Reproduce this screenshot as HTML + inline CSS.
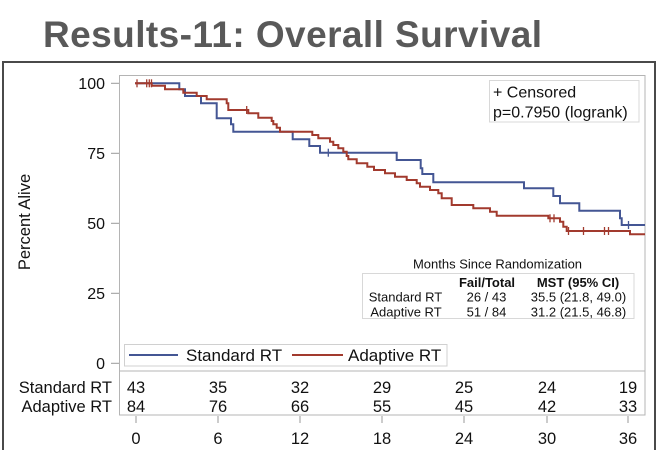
<!DOCTYPE html>
<html>
<head>
<meta charset="utf-8">
<style>
  html,body{margin:0;padding:0;background:#fff;}
  svg{display:block;}
  text{font-family:"Liberation Sans", Arial, sans-serif;}
</style>
</head>
<body>
<svg width="661" height="450" viewBox="0 0 661 450" xmlns="http://www.w3.org/2000/svg">
  <rect x="0" y="0" width="661" height="450" fill="#fff"/>
  <!-- Title -->
  <text x="43" y="47" font-size="37" font-weight="bold" fill="#595959" textLength="499" lengthAdjust="spacing">Results-11: Overall Survival</text>

  <!-- Outer frame -->
  <path d="M3,452 V62 H655 V452" fill="none" stroke="#4a4a4a" stroke-width="2"/>

  <!-- Plot frame -->
  <g stroke="#b4b4b4" stroke-width="1" fill="none">
    <rect x="119.5" y="75.5" width="525.5" height="339.5"/>
    <line x1="119.5" y1="371" x2="645" y2="371"/>
  </g>

  <!-- Y ticks -->
  <g stroke="#999" stroke-width="1">
    <line x1="111" y1="83.3" x2="119" y2="83.3"/>
    <line x1="111" y1="153.3" x2="119" y2="153.3"/>
    <line x1="111" y1="223.3" x2="119" y2="223.3"/>
    <line x1="111" y1="293.3" x2="119" y2="293.3"/>
    <line x1="111" y1="363.3" x2="119" y2="363.3"/>
  </g>
  <g font-size="16" fill="#111" text-anchor="end">
    <text x="105" y="89">100</text>
    <text x="105" y="159">75</text>
    <text x="105" y="229">50</text>
    <text x="105" y="299">25</text>
    <text x="105" y="369">0</text>
  </g>
  <text transform="translate(30,222) rotate(-90)" font-size="16.5" fill="#111" text-anchor="middle">Percent Alive</text>

  <!-- X ticks -->
  <g stroke="#999" stroke-width="1">
    <line x1="136" y1="416" x2="136" y2="423"/>
    <line x1="218" y1="416" x2="218" y2="423"/>
    <line x1="300" y1="416" x2="300" y2="423"/>
    <line x1="382" y1="416" x2="382" y2="423"/>
    <line x1="464" y1="416" x2="464" y2="423"/>
    <line x1="547" y1="416" x2="547" y2="423"/>
    <line x1="628" y1="416" x2="628" y2="423"/>
  </g>
  <g font-size="16.5" fill="#111" text-anchor="middle">
    <text x="136" y="444">0</text>
    <text x="218" y="444">6</text>
    <text x="300" y="444">12</text>
    <text x="382" y="444">18</text>
    <text x="464" y="444">24</text>
    <text x="547" y="444">30</text>
    <text x="628" y="444">36</text>
  </g>

  <!-- At-risk table -->
  <g font-size="16.5" fill="#111">
    <text x="112" y="393" text-anchor="end">Standard RT</text>
    <text x="112" y="412" text-anchor="end">Adaptive RT</text>
    <g text-anchor="middle">
      <text x="136" y="393">43</text>
      <text x="218" y="393">35</text>
      <text x="300" y="393">32</text>
      <text x="382" y="393">29</text>
      <text x="464" y="393">25</text>
      <text x="547" y="393">24</text>
      <text x="628" y="393">19</text>
      <text x="136" y="412">84</text>
      <text x="218" y="412">76</text>
      <text x="300" y="412">66</text>
      <text x="382" y="412">55</text>
      <text x="464" y="412">45</text>
      <text x="547" y="412">42</text>
      <text x="628" y="412">33</text>
    </g>
  </g>

  <!-- Curves -->
  <path d="M135,83.3 H179.3 V89.3 H185 V96 H201 V103.3 H216.7 V118.3 H231 V124.3 H233.3 V131.7 H292.7 V139.3 H309.3 V146 H320 V152.7 H396.7 V160 H420.7 V168.3 H422.3 V174 H433.3 V182.3 H524 V188.3 H553.3 V196 H560 V203.3 H579.3 V210.7 H620 V218.3 H621.7 V225 H645" fill="none" stroke="#445694" stroke-width="2"/>
  <path d="M135,83.3 H151.7 V85.7 H165 V89.3 H183.3 V92.7 H196.7 V96 H206.7 V99.3 H226.7 V103.3 H228.3 V110 H248.3 V113.3 H258.3 V117.7 H271.7 V121 H273.3 V124.3 H276.7 V127.7 H280 V131.7 H312.3 V135 H318.3 V138.3 H330 V141.7 H333.3 V145 H338.3 V148.3 H343.3 V151.7 H346.7 V156 H348.3 V159.3 H356.7 V163.3 H367.3 V166.7 H374 V170 H385 V173.3 H395 V176.7 H406.7 V180 H416.7 V183.3 H420 V186.7 H430 V190 H438.3 V193.3 H441.7 V198.3 H451.7 V205 H473.3 V208.3 H490 V211.7 H496.7 V215.7 H548.3 V218.3 H560 V221.7 H563.3 V226.7 H566.7 V231 H630 V234.3 H645" fill="none" stroke="#A23A2E" stroke-width="2"/>

  <!-- Censor ticks -->
  <g stroke="#445694" stroke-width="1.3">
    <line x1="328.3" y1="148.7" x2="328.3" y2="156.7"/>
    <line x1="628.5" y1="221" x2="628.5" y2="229"/>
  </g>
  <g stroke="#A23A2E" stroke-width="1.3">
    <line x1="137" y1="79.3" x2="137" y2="87.3"/>
    <line x1="146.7" y1="79.3" x2="146.7" y2="87.3"/>
    <line x1="149.3" y1="79.3" x2="149.3" y2="87.3"/>
    <line x1="151.5" y1="79.3" x2="151.5" y2="87.3"/>
    <line x1="246.7" y1="106" x2="246.7" y2="114"/>
    <line x1="550" y1="214.3" x2="550" y2="222.3"/>
    <line x1="554" y1="214.3" x2="554" y2="222.3"/>
    <line x1="568.5" y1="227" x2="568.5" y2="235"/>
    <line x1="583.5" y1="227" x2="583.5" y2="235"/>
    <line x1="604.5" y1="227" x2="604.5" y2="235"/>
    <line x1="608.5" y1="227" x2="608.5" y2="235"/>
  </g>

  <!-- Censored / p-value box -->
  <rect x="489.5" y="80.5" width="149.5" height="41.5" fill="#fff" stroke="#d8d8d8" stroke-width="1"/>
  <g font-size="16" fill="#111">
    <text x="493" y="97.5">+ Censored</text>
    <text x="493" y="117.5">p=0.7950 (logrank)</text>
  </g>

  <!-- Stats table -->
  <text x="497.5" y="268.6" font-size="13" fill="#111" text-anchor="middle">Months Since Randomization</text>
  <rect x="362.5" y="273.5" width="271.5" height="45" fill="#fff" stroke="#d8d8d8" stroke-width="1"/>
  <g font-size="13" fill="#111" text-anchor="middle">
    <text x="487" y="286.8" font-weight="bold">Fail/Total</text>
    <text x="578" y="286.8" font-weight="bold">MST (95% CI)</text>
    <text x="405.5" y="301.6">Standard RT</text>
    <text x="486.5" y="301.6">26 / 43</text>
    <text x="578.5" y="301.6">35.5 (21.8, 49.0)</text>
    <text x="406" y="316.6">Adaptive RT</text>
    <text x="486.5" y="316.6">51 / 84</text>
    <text x="578.5" y="316.6">31.2 (21.5, 46.8)</text>
  </g>

  <!-- Legend -->
  <rect x="124.5" y="344.5" width="322.5" height="21.5" fill="#fff" stroke="#d0d0d0" stroke-width="1"/>
  <line x1="129" y1="355" x2="178" y2="355" stroke="#445694" stroke-width="2"/>
  <text x="186" y="361" font-size="17" fill="#111">Standard RT</text>
  <line x1="292" y1="355" x2="343" y2="355" stroke="#A23A2E" stroke-width="2"/>
  <text x="348" y="361" font-size="17" fill="#111">Adaptive RT</text>
</svg>
</body>
</html>
